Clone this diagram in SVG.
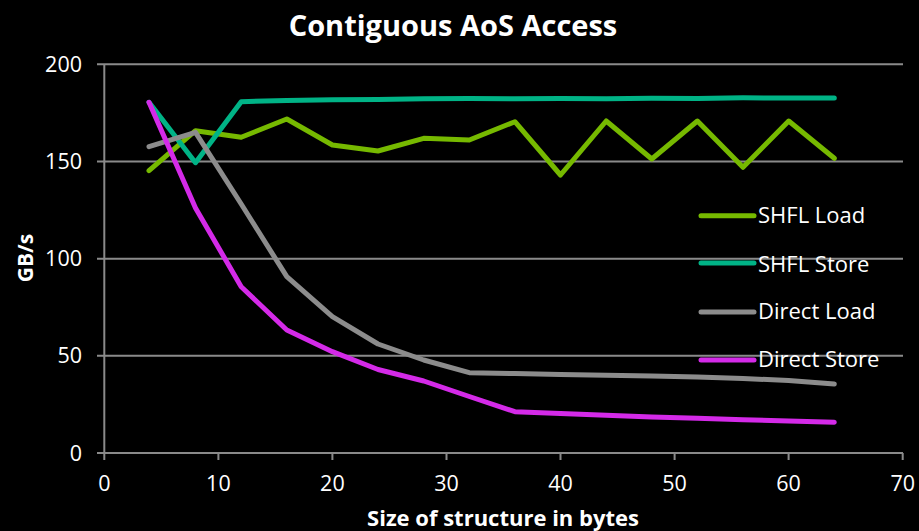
<svg xmlns="http://www.w3.org/2000/svg" width="919" height="531" viewBox="0 0 919 531">
<style>
text{font-family:"Open Sans","DejaVu Sans",sans-serif;fill:#fff}
.tick{font-size:21.5px}
.grid{stroke:#8a8a8a;stroke-width:2;fill:none}
.series{fill:none;stroke-width:5;stroke-linecap:round;stroke-linejoin:round}
.s1{stroke:#76b900}.s2{stroke:#00b386}.s3{stroke:#8c8c8c}.s4{stroke:#d42ae8}
.leg{font-size:22px}
</style>
<rect width="919" height="531" fill="#000"/>
<text x="453" y="36" text-anchor="middle" font-size="29" font-weight="bold">Contiguous AoS Access</text>
<g id="axes">
<path class="grid" d="M97 64.3H903M97 161.5H903M97 258.7H903M97 355.8H903M97 453H903M104.3 64.3V460M218.4 453V460M332.4 453V460M446.5 453V460M560.5 453V460M674.6 453V460M788.6 453V460M902.7 453V460"/>
<g class="tick" text-anchor="end">
<text x="82" y="72">200</text>
<text x="82" y="169">150</text>
<text x="82" y="266">100</text>
<text x="82" y="363">50</text>
<text x="82" y="460.5">0</text>
</g>
<g class="tick" text-anchor="middle">
<text x="104.3" y="491">0</text>
<text x="218.4" y="491">10</text>
<text x="332.4" y="491">20</text>
<text x="446.5" y="491">30</text>
<text x="560.5" y="491">40</text>
<text x="674.6" y="491">50</text>
<text x="788.6" y="491">60</text>
<text x="902.7" y="491">70</text>
</g>
<text x="503" y="526" text-anchor="middle" font-size="22" font-weight="bold">Size of structure in bytes</text>
<text transform="translate(33 258) rotate(-90)" text-anchor="middle" font-size="21" font-weight="bold">GB/s</text>
</g>
<g id="connectors">
<polyline id="shfl-load" class="series s1" points="149,170.7 195.5,130.7 241.2,137.3 286.8,119 332.4,145 378,151 423.7,138.3 469.3,140 514.9,121.7 560.5,175 606.2,121 651.8,159 697.4,121 743,167.3 788.7,121 834.3,158.3"/>
<polyline id="shfl-store" class="series s2" points="149,102.3 195.5,162.7 241.2,101.7 286.8,100.5 332.4,99.8 378,99.6 423.7,98.8 469.3,98.6 514.9,98.8 560.5,98.4 606.2,98.8 651.8,98.2 697.4,98.4 743,97.8 788.7,98 834.3,98"/>
<polyline id="direct-load" class="series s3" points="149,146.7 195.5,132.3 241.2,204 286.8,276.7 332.4,316.7 378,344 423.7,360 469.3,372.7 514.9,373.6 560.5,374.6 606.2,375.2 651.8,376 697.4,377 743,378.5 788.7,380.5 834.3,384"/>
<polyline id="direct-store" class="series s4" points="149,102.3 195.5,208 241.2,286.7 286.8,330 332.4,351.7 378,369.5 423.7,381 469.3,396.5 514.9,411.7 560.5,413.5 606.2,415.3 651.8,417 697.4,418.3 743,419.8 788.7,421 834.3,422.3"/>
</g>
<g id="legend">
<g id="leg-shfl-load"><path class="series s1" d="M701 215.7H754"/><text class="leg" x="758" y="222.7">SHFL Load</text></g>
<g id="leg-shfl-store"><path class="series s2" d="M701 263H754"/><text class="leg" x="758" y="271.5">SHFL Store</text></g>
<g id="leg-direct-load"><path class="series s3" d="M701 312H754"/><text class="leg" x="758" y="319.3">Direct Load</text></g>
<g id="leg-direct-store"><path class="series s4" d="M701 360H754"/><text class="leg" x="758" y="366.7">Direct Store</text></g>
</g>
</svg>
